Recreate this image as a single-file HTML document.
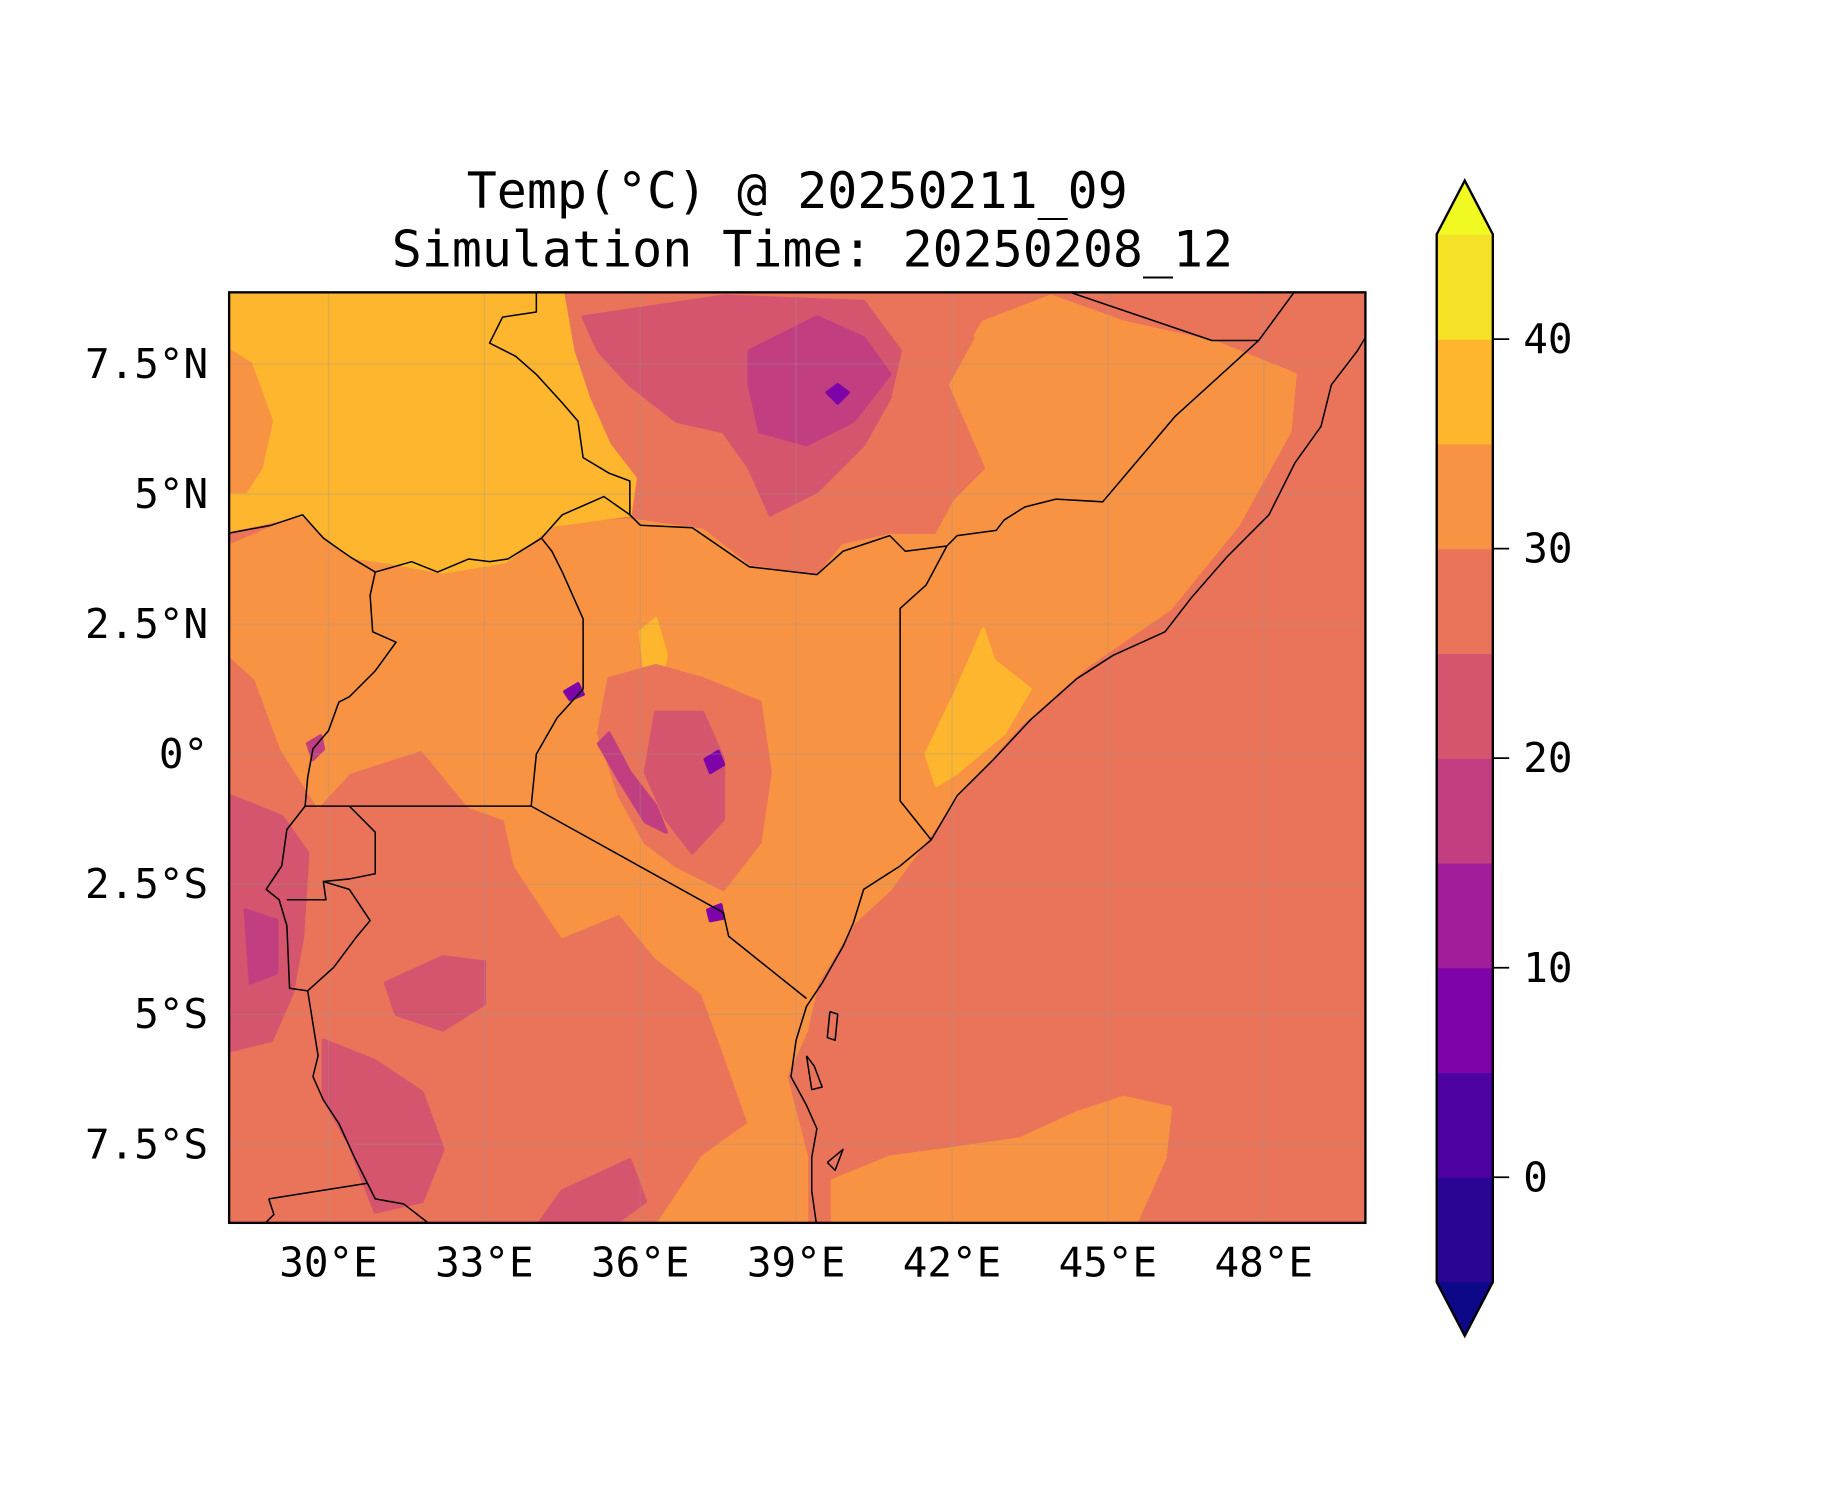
<!DOCTYPE html>
<html><head><meta charset="utf-8"><style>
html,body{margin:0;padding:0;background:#fff;}
svg{display:block;}
text{font-family:"DejaVu Sans Mono","Liberation Mono",monospace;fill:#000;}
</style></head><body>
<svg id="fig" width="1833" height="1500" viewBox="0 0 1568 1283" xmlns="http://www.w3.org/2000/svg">
<text x="682" y="178" font-size="42.7" text-anchor="middle">Temp(°C) @ 20250211_09</text>
<text x="695" y="228" font-size="42.7" text-anchor="middle">Simulation Time: 20250208_12</text>
<defs><clipPath id="mapclip"><rect x="196" y="250" width="972" height="796"/></clipPath></defs>
<g id="map" clip-path="url(#mapclip)"></g>
<g id="grid" clip-path="url(#mapclip)"></g>
<g id="borders" clip-path="url(#mapclip)"></g>
<rect x="196" y="250" width="972" height="796" fill="none" stroke="#000" stroke-width="2"/>
<g id="xticks"></g>
<g id="yticks"></g>
<g id="cbar"></g>
</svg>
<script>
const levels=[-5,0,5,10,15,20,25,30,35,40,45];
const levelColors=["#2a0593","#4e02a2","#7e03a8","#a21d9a","#c13f80","#d5546e","#e9745a","#f79342","#fdb62d","#f5e226"];
const underColor="#0d0887", overColor="#f0f921";
const lonTicks=[30,33,36,39,42,45,48];
const lonLabels=["30°E","33°E","36°E","39°E","42°E","45°E","48°E"];
const latTicks=[7.5,5,2.5,0,-2.5,-5,-7.5];
const latLabels=["7.5°N","5°N","2.5°N","0°","2.5°S","5°S","7.5°S"];
const cbarTicks=[0,10,20,30,40];
const backgroundValue=27.5;
const regionValues=[32.5,27.5,22.5,17.5,7.5,37.5,32.5,37.5,37.5,27.5,22.5,17.5,7.5,22.5,22.5,22.5,17.5,32.5,17.5,7.5,7.5,27.5,22.5];
const regionShapes=[
[[28.1,4.0],[29.5,4.6],[30.4,3.8],[31.1,3.7],[32.2,3.5],[33.4,3.7],[34.3,4.4],[35.8,4.5],[37.2,4.3],[38.1,3.6],[39.4,3.4],[39.9,4.0],[40.8,4.2],[41.7,4.2],[42.4,5.5],[41.9,7.1],[42.6,8.3],[43.9,8.8],[45.3,8.3],[47.1,7.9],[48.6,7.3],[48.5,6.2],[47.5,4.4],[46.2,2.8],[44.6,1.7],[43.3,0.55],[42.1,-0.8],[41.5,-1.65],[40.8,-2.6],[40.1,-3.25],[39.4,-4.4],[39.2,-5.3],[38.8,-6.2],[39.2,-7.75],[39.2,-9.1],[36.3,-9.1],[37.2,-7.75],[38.1,-7.1],[37.6,-5.7],[37.2,-4.6],[36.3,-3.9],[35.6,-3.05],[34.5,-3.5],[33.6,-2.15],[33.4,-1.25],[32.7,-1.0],[31.8,0.1],[30.4,-0.35],[29.8,-1.0],[29.1,0.1],[28.6,1.45],[28.1,1.9]],
[[34.5,8.9],[41.7,8.9],[42.4,8.0],[41.9,7.1],[42.6,5.5],[41.7,4.6],[40.8,4.4],[39.9,4.1],[39.4,3.6],[38.1,3.8],[37.2,4.6],[36.3,4.8],[35.8,5.3],[34.9,5.95],[34.7,7.1]],
[[34.9,8.4],[37.6,8.8],[40.3,8.7],[41.0,7.75],[40.8,6.85],[40.3,5.95],[39.4,5.05],[38.5,4.6],[38.1,5.5],[37.6,6.2],[36.7,6.4],[35.8,7.1],[35.2,7.75]],
[[38.1,7.75],[39.4,8.4],[40.3,8.0],[40.8,7.3],[40.1,6.4],[39.2,5.95],[38.3,6.2],[38.1,7.1]],
[[39.6,6.95],[39.8,7.1],[40.0,6.95],[39.8,6.75]],
[[28.1,8.9],[34.5,8.9],[34.7,7.75],[35.0,6.85],[35.4,5.95],[35.9,5.3],[35.8,4.6],[34.3,4.4],[33.4,3.7],[32.2,3.5],[31.1,3.7],[30.4,3.8],[29.5,4.6],[28.1,4.3]],
[[28.1,7.75],[28.5,7.5],[28.9,6.4],[28.7,5.5],[28.4,5.05],[28.1,5.05]],
[[41.5,0.0],[42.1,1.25],[42.6,2.4],[42.8,1.8],[43.5,1.25],[43.0,0.4],[42.1,-0.35],[41.7,-0.6]],
[[36.0,2.35],[36.3,2.6],[36.5,1.9],[36.4,1.45],[36.1,1.5]],
[[35.4,1.45],[36.3,1.7],[37.2,1.45],[38.3,1.0],[38.5,-0.35],[38.3,-1.7],[37.6,-2.6],[36.7,-2.15],[36.1,-1.7],[35.6,-0.8],[35.2,0.4]],
[[36.3,0.8],[37.2,0.8],[37.6,-0.1],[37.6,-1.25],[37.0,-1.9],[36.5,-1.25],[36.1,-0.35]],
[[35.4,0.4],[35.8,-0.35],[36.3,-1.0],[36.5,-1.5],[36.1,-1.3],[35.6,-0.5],[35.2,0.2]],
[[37.25,-0.1],[37.5,0.05],[37.6,-0.2],[37.35,-0.35]],
[[28.1,-0.8],[29.1,-1.2],[29.6,-1.9],[29.5,-3.5],[29.3,-4.6],[28.9,-5.5],[28.1,-5.7]],
[[31.1,-4.4],[32.2,-3.9],[33.0,-4.0],[33.0,-4.8],[32.2,-5.3],[31.3,-5.0]],
[[29.9,-5.5],[30.9,-5.9],[31.8,-6.5],[32.2,-7.6],[31.8,-8.6],[30.9,-8.8],[30.4,-7.5],[29.9,-6.6]],
[[28.4,-3.0],[29.0,-3.2],[29.0,-4.2],[28.5,-4.4]],
[[39.7,-8.2],[40.8,-7.75],[41.9,-7.6],[43.3,-7.4],[44.4,-6.9],[45.3,-6.6],[46.2,-6.8],[46.1,-7.75],[45.5,-9.1],[39.7,-9.1]],
[[29.6,0.2],[29.85,0.35],[29.9,0.1],[29.7,-0.1]],
[[34.55,1.2],[34.8,1.35],[34.9,1.15],[34.65,1.05]],
[[37.3,-3.0],[37.55,-2.9],[37.6,-3.15],[37.35,-3.2]],
[[28.1,-7.5],[28.9,-7.3],[29.3,-8.2],[28.9,-9.1],[28.1,-9.1]],
[[34.5,-8.4],[35.8,-7.8],[36.1,-8.6],[35.4,-9.1],[34.0,-9.1]]
];
const borderLines=[
[[33.9,-1.0],[37.6,-3.05],[37.7,-3.5],[39.2,-4.7]],
[[30.4,-1.0],[33.9,-1.0]],
[[33.9,-1.0],[34.0,0.0],[34.4,0.7],[34.9,1.25],[34.9,1.9],[34.9,2.6],[34.5,3.5],[34.3,3.9],[34.1,4.15],[34.5,4.6],[35.3,4.95],[35.8,4.6],[36.0,4.4],[37.0,4.35],[38.1,3.6],[39.4,3.45],[39.9,3.9],[40.8,4.2],[41.1,3.9],[41.9,4.0]],
[[41.9,4.0],[41.5,3.25],[41.0,2.8],[41.0,-0.9],[41.6,-1.65]],
[[41.9,4.0],[42.1,4.2],[42.85,4.3],[43.0,4.5],[43.4,4.75],[44.0,4.9],[44.9,4.85],[46.3,6.5],[47.9,7.95],[48.6,8.9]],
[[47.9,7.95],[47.0,7.95],[44.2,8.9]],
[[34.0,8.9],[34.0,8.5],[33.35,8.4],[33.1,7.9],[33.6,7.65],[34.0,7.3],[34.5,6.75],[34.8,6.4],[34.9,5.7],[35.4,5.4],[35.8,5.25],[35.8,4.6]],
[[28.1,4.25],[28.9,4.4],[29.5,4.6],[29.9,4.15],[30.4,3.8],[30.9,3.5],[31.6,3.7],[32.1,3.5],[32.7,3.75],[33.1,3.7],[33.45,3.75],[34.1,4.15]],
[[30.9,3.5],[30.8,3.05],[30.85,2.35],[31.3,2.15],[30.9,1.6],[30.4,1.1],[30.2,1.0],[30.0,0.45],[29.7,0.1],[29.6,-0.45],[29.55,-1.0],[30.4,-1.0]],
[[29.55,-1.0],[29.2,-1.45],[29.1,-2.15],[28.8,-2.6],[29.05,-2.8],[29.2,-3.3],[29.25,-4.5],[29.6,-4.55],[30.1,-4.1],[30.55,-3.5],[30.8,-3.2],[30.6,-2.9],[30.4,-2.6],[29.9,-2.45],[29.95,-2.8],[29.2,-2.8]],
[[30.4,-1.0],[30.9,-1.5],[30.9,-2.3],[30.4,-2.4],[29.9,-2.45]],
[[29.6,-4.55],[29.8,-5.8],[29.7,-6.2],[29.9,-6.65],[30.2,-7.1],[30.5,-7.75],[30.9,-8.55],[31.45,-8.65],[31.9,-9.0]],
[[28.85,-8.55],[30.75,-8.25]],
[[28.85,-8.55],[28.95,-8.85],[28.7,-9.1]],
[[49.95,8.0],[49.8,7.75],[49.3,7.1],[49.1,6.3],[48.6,5.6],[48.1,4.6],[47.3,3.8],[46.6,3.0],[46.1,2.35],[45.1,1.9],[44.4,1.45],[43.5,0.65],[42.8,-0.1],[42.1,-0.8],[41.6,-1.65],[41.0,-2.15],[40.3,-2.6],[40.1,-3.25],[39.9,-3.7],[39.5,-4.4],[39.2,-4.85],[39.0,-5.5],[38.9,-6.2],[39.2,-6.75],[39.4,-7.2],[39.3,-7.75],[39.3,-8.4],[39.4,-9.1]],
[[39.65,-4.95],[39.8,-5.0],[39.75,-5.5],[39.6,-5.45],[39.65,-4.95]],
[[39.2,-5.8],[39.35,-6.0],[39.5,-6.4],[39.3,-6.45],[39.2,-5.8]],
[[39.6,-7.85],[39.9,-7.6],[39.75,-8.0],[39.6,-7.85]]
];
const NS="http://www.w3.org/2000/svg";
function xs(lon){return 281+(lon-30)*44.45;}
function ys(lat){return 645-lat*44.5;}
function cy(v){return 1007-v*17.925;}
function colorFor(v){for(let i=0;i<levels.length-1;i++){if(v>=levels[i]&&v<levels[i+1])return levelColors[i];}return v<levels[0]?underColor:overColor;}
function mk(tag,attrs,parent){const e=document.createElementNS(NS,tag);for(const k in attrs)e.setAttribute(k,attrs[k]);parent.appendChild(e);return e;}
const mapG=document.getElementById('map');
const bg=mk('rect',{x:196,y:250,width:972,height:796,fill:colorFor(backgroundValue)},mapG);


regionShapes.forEach((poly,i)=>{
  const p=mk('polygon',{points:poly.map(q=>xs(q[0]).toFixed(1)+','+ys(q[1]).toFixed(1)).join(' '),fill:colorFor(regionValues[i]),stroke:colorFor(regionValues[i]),'stroke-width':3,'stroke-linejoin':'round'},mapG);
  
  
});
const gridG=document.getElementById('grid');
lonTicks.forEach(l=>{const g=mk('line',{x1:xs(l),x2:xs(l),y1:250,y2:1046,stroke:'#999','stroke-opacity':0.35,'stroke-width':1},gridG);});
latTicks.forEach(l=>{const g=mk('line',{y1:ys(l),y2:ys(l),x1:196,x2:1168,stroke:'#999','stroke-opacity':0.35,'stroke-width':1},gridG);});
const bordersG=document.getElementById('borders');
borderLines.forEach(line=>{
  const b=mk('polyline',{points:line.map(q=>xs(q[0]).toFixed(1)+','+ys(q[1]).toFixed(1)).join(' '),fill:'none',stroke:'#000','stroke-width':1.3,'stroke-linejoin':'round'},bordersG);
  
  
});
const xt=document.getElementById('xticks');
lonTicks.forEach((l,i)=>{const t=mk('text',{x:xs(l),y:1092,'font-size':35,'text-anchor':'middle'},xt);t.textContent=lonLabels[i];});
const yt=document.getElementById('yticks');
latTicks.forEach((l,i)=>{const t=mk('text',{x:178,y:ys(l)+12,'font-size':35,'text-anchor':'end'},yt);t.textContent=latLabels[i];});
const cb=document.getElementById('cbar');
const cx0=1229,cx1=1277,cm=1253;
for(let i=0;i<levels.length-1;i++){
  const r=mk('rect',{x:cx0,y:cy(levels[i+1]),width:cx1-cx0,height:cy(levels[i])-cy(levels[i+1])+0.5,fill:levelColors[i]},cb);
  
  
}
const cbTop=cy(levels[levels.length-1]),cbBot=cy(levels[0]);
const tu=mk('polygon',{points:`${cx0},${cbTop} ${cm},${cbTop-46} ${cx1},${cbTop}`,fill:overColor},cb);


const td=mk('polygon',{points:`${cx0},${cbBot} ${cm},${cbBot+46} ${cx1},${cbBot}`,fill:underColor},cb);


const ol=mk('polygon',{points:`${cx0},${cbTop} ${cm},${cbTop-46} ${cx1},${cbTop} ${cx1},${cbBot} ${cm},${cbBot+46} ${cx0},${cbBot}`,fill:'none',stroke:'#000','stroke-width':2},cb);


cbarTicks.forEach(v=>{
  const l=mk('line',{x1:cx1,x2:cx1+14,y1:cy(v),y2:cy(v),stroke:'#000','stroke-width':1.5},cb);
  
  
  const t=mk('text',{x:1303,y:cy(v)+12,'font-size':35},cb);
  t.textContent=String(v);
  
  
});
</script>
</body></html>
